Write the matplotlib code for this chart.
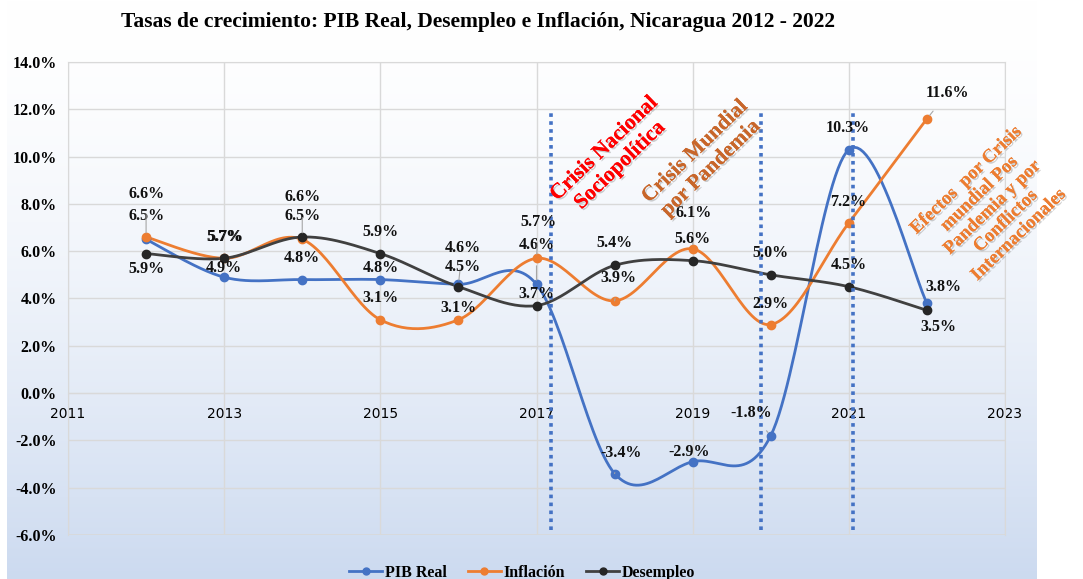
import numpy as np
import matplotlib
matplotlib.use("Agg")
import matplotlib.pyplot as plt
import matplotlib.patheffects as pe

years = [2012, 2013, 2014, 2015, 2016, 2017, 2018, 2019, 2020, 2021, 2022]
pib = [6.5, 4.9, 4.8, 4.8, 4.6, 4.6, -3.4, -2.9, -1.8, 10.3, 3.8]
inflacion = [6.6, 5.7, 6.5, 3.1, 3.1, 5.7, 3.9, 6.1, 2.9, 7.2, 11.6]
desempleo = [5.9, 5.7, 6.6, 5.9, 4.5, 3.7, 5.4, 5.6, 5.0, 4.5, 3.5]

# desplazamiento de etiquetas (pixeles)
off_pib = [(0, 23), (0, 9), (0, 22), (0, 12), (4, 36), (0, 39), (6, 21), (-4, 10), (-20, 23), (-1, 22), (16, 16)]
off_inf = [(0, 43), (0, 21), (0, 23), (0, 22), (0, 12), (2, 36), (4, 23), (1, 36), (0, 21), (-1, 21), (21, 26)]
off_des = [(0, -15), (1, 21), (0, 40), (0, 22), (4, 20), (0, 12), (0, 22), (0, 22), (0, 22), (0, 22), (11, -17)]
lead_pib = [4, 5, 6, 8]
lead_inf = [0, 5, 6, 7, 10]
lead_des = [2]

crisis_x = [2017.19, 2019.88, 2021.05]

c_pib = '#4472c4'
c_inf = '#ed7d31'
c_des = '#404040'
serif = 'Liberation Serif'


def suavizar(xs, ys, n=30):
    # curva suavizada estilo Excel (Catmull-Rom / Bezier)
    p = np.column_stack([xs, ys]).astype(float)
    out = []
    for i in range(len(p) - 1):
        p0 = p[i - 1] if i > 0 else p[i]
        p1, p2 = p[i], p[i + 1]
        p3 = p[i + 2] if i + 2 < len(p) else p[i + 1]
        b1 = p1 + (p2 - p0) / 6
        b2 = p2 - (p3 - p1) / 6
        t = np.linspace(0, 1, n)[:, None]
        seg = (1 - t) ** 3 * p1 + 3 * (1 - t) ** 2 * t * b1 + 3 * (1 - t) * t ** 2 * b2 + t ** 3 * p2
        out.append(seg if i == 0 else seg[1:])
    out = np.vstack(out)
    return out[:, 0], out[:, 1]


fig = plt.figure(figsize=(10.83, 5.79), dpi=100)

# fondo degradado
bg = fig.add_axes([7 / 1083, 0, 1030 / 1083, 1], zorder=-10)
g = np.linspace(0, 1, 256) ** 1.6
top = np.array([1, 1, 1])
bot = np.array([0.80, 0.855, 0.94])
img = top[None, :] * (1 - g[:, None]) + bot[None, :] * g[:, None]
bg.imshow(img[:, None, :], aspect='auto', extent=[0, 1, 0, 1])
bg.axis('off')

ax = fig.add_axes([68 / 1083, 1 - 535 / 579, 937 / 1083, 473 / 579])
ax.patch.set_alpha(0)

for vals, col, lab, offs, leads in [(pib, c_pib, 'PIB Real', off_pib, lead_pib),
                                    (inflacion, c_inf, 'Inflación', off_inf, lead_inf),
                                    (desempleo, c_des, 'Desempleo', off_des, lead_des)]:
    sx, sy = suavizar(years, vals)
    ax.plot(sx, sy, color=col, lw=2, zorder=3)
    mcol = '#262626' if col == c_des else col
    ax.plot(years, vals, 'o', color=mcol, ms=6, zorder=4)
    ax.plot([], [], '-o', color=col, mfc=mcol, mec=mcol, lw=2, ms=5, label=lab)
    for i, (x, v) in enumerate(zip(years, vals)):
        dx, dy = offs[i]
        ap = None
        if i in leads:
            ap = dict(arrowstyle='-', color='#a6a6a6', lw=0.8, shrinkA=7, shrinkB=3)
        ax.annotate(f'{v:.1f}%', (x, v), xytext=(dx, dy), textcoords='offset pixels',
                    ha='center', va='center', fontsize=11.5, fontweight='bold',
                    family=serif, color='#111111', zorder=6, arrowprops=ap)

for cx in crisis_x:
    ax.plot([cx, cx], [-5.8, 12], color=c_pib, lw=2.6, ls=(0, (1, 1.2)), zorder=5)

sh = [pe.withSimplePatchShadow(offset=(1.2, -1.2), shadow_rgbFace='#888888', alpha=0.4), pe.Normal()]
ax.text(2017.97, 9.98, 'Crisis Nacional\nSociopolítica', rotation=44, ha='center', va='center',
        fontsize=15.5, fontweight='bold', family=serif, color='#ff0000', linespacing=1.2,
        path_effects=sh, zorder=7)
ax.text(2019.13, 9.85, 'Crisis Mundial\npor Pandemia', rotation=44, ha='center', va='center',
        fontsize=15.5, fontweight='bold', family=serif, color='#c8662a', linespacing=1.2,
        path_effects=sh, zorder=7)
ax.text(2022.84, 7.85, 'Efectos  por Crisis\nmundial Pos\nPandemia y por\nConflictos\nInternacionales',
        rotation=44, ha='center', va='center', fontsize=13.5, fontweight='bold', family=serif,
        color=c_inf, linespacing=1.15, path_effects=sh, zorder=7)

ax.set_xlim(2011, 2023)
ax.set_ylim(-6, 14)
ax.set_xticks(range(2011, 2024, 2))
ax.set_yticks(range(-6, 15, 2))
ax.set_yticklabels([f'{v:.1f}%' for v in range(-6, 15, 2)], fontsize=11.5, fontweight='bold', family=serif)
ax.set_xticklabels([str(y) for y in range(2011, 2024, 2)], fontsize=11.5, fontweight='bold', family=serif)
ax.spines['bottom'].set_position(('data', 0))
for s in ax.spines.values():
    s.set_color('#d9d9d9')
ax.tick_params(length=0, pad=8)
ax.tick_params(axis='x', pad=10)
ax.grid(True, color='#d9d9d9', lw=1)
ax.set_axisbelow(True)
# borde inferior del area de trazado
ax.axhline(-6, color='#d9d9d9', lw=1.2)

fig.text(478 / 1083, 1 - 22 / 579, 'Tasas de crecimiento: PIB Real, Desempleo e Inflación, Nicaragua 2012 - 2022',
         ha='center', va='center', fontsize=15.5, fontweight='bold', family=serif)

fig.legend(loc='center', bbox_to_anchor=(522 / 1083, 1 - 573 / 579), ncol=3, frameon=False,
           prop={'family': serif, 'weight': 'bold', 'size': 11.5}, handlelength=2.1,
           columnspacing=1.3, handletextpad=0.15)

fig.savefig('out.png', dpi=100)
